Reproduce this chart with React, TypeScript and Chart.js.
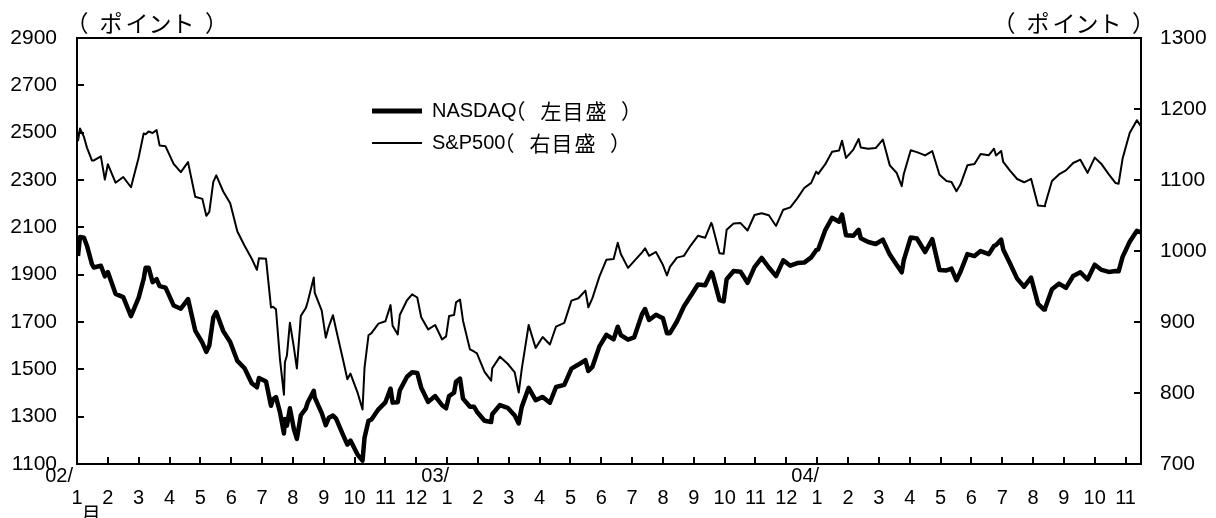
import React, { useEffect, useRef } from "react";
import { Chart, registerables } from "chart.js";

Chart.register(...registerables);

// Trading dates (weekly closes plus notable daily turning points)
const dates = [
  "2002-01-02","2002-01-04","2002-01-08","2002-01-11","2002-01-16","2002-01-18","2002-01-25","2002-01-29",
  "2002-02-01","2002-02-08","2002-02-15","2002-02-22","2002-03-01","2002-03-06","2002-03-08","2002-03-11",
  "2002-03-15","2002-03-19","2002-03-22","2002-03-28","2002-04-05","2002-04-12","2002-04-19","2002-04-26",
  "2002-05-03","2002-05-07","2002-05-10","2002-05-14","2002-05-17","2002-05-24","2002-05-31","2002-06-07",
  "2002-06-14","2002-06-21","2002-06-26","2002-06-28","2002-07-05","2002-07-10","2002-07-12","2002-07-15",
  "2002-07-19","2002-07-23","2002-07-24","2002-07-26","2002-07-29","2002-08-02","2002-08-05","2002-08-09",
  "2002-08-14","2002-08-16","2002-08-22","2002-08-23","2002-08-30","2002-09-03","2002-09-06","2002-09-10",
  "2002-09-13","2002-09-20","2002-09-24","2002-09-27","2002-10-04","2002-10-09","2002-10-11","2002-10-15",
  "2002-10-18","2002-10-25","2002-11-01","2002-11-06","2002-11-08","2002-11-13","2002-11-15","2002-11-22",
  "2002-11-27","2002-12-02","2002-12-06","2002-12-13","2002-12-20","2002-12-27","2002-12-31",
  "2003-01-03","2003-01-08","2003-01-10","2003-01-14","2003-01-17","2003-01-24","2003-01-28","2003-01-31",
  "2003-02-07","2003-02-13","2003-02-14","2003-02-21","2003-02-28","2003-03-07","2003-03-11","2003-03-14",
  "2003-03-21","2003-03-28","2003-04-04","2003-04-11","2003-04-17","2003-04-25","2003-05-02","2003-05-09",
  "2003-05-16","2003-05-19","2003-05-23","2003-05-30","2003-06-06","2003-06-13","2003-06-17","2003-06-20",
  "2003-06-27","2003-07-03","2003-07-11","2003-07-14","2003-07-18","2003-07-25","2003-08-01","2003-08-05",
  "2003-08-08","2003-08-15","2003-08-22","2003-08-29","2003-09-05","2003-09-12","2003-09-18","2003-09-19",
  "2003-09-26","2003-09-30","2003-10-03","2003-10-10","2003-10-17","2003-10-24","2003-10-31","2003-11-07",
  "2003-11-14","2003-11-21","2003-11-28","2003-12-05","2003-12-12","2003-12-19","2003-12-26","2003-12-31",
  "2004-01-02","2004-01-09","2004-01-16","2004-01-23","2004-01-26","2004-01-30","2004-02-06","2004-02-11",
  "2004-02-13","2004-02-20","2004-02-27","2004-03-05","2004-03-12","2004-03-19","2004-03-24","2004-03-26",
  "2004-04-02","2004-04-08","2004-04-16","2004-04-23","2004-04-30","2004-05-07","2004-05-12","2004-05-17",
  "2004-05-21","2004-05-28","2004-06-04","2004-06-10","2004-06-18","2004-06-23","2004-06-25","2004-06-30",
  "2004-07-02","2004-07-09","2004-07-16","2004-07-23","2004-07-30","2004-08-06","2004-08-12","2004-08-13",
  "2004-08-20","2004-08-27","2004-09-03","2004-09-10","2004-09-17","2004-09-24","2004-10-01","2004-10-08",
  "2004-10-15","2004-10-22","2004-10-25","2004-10-29","2004-11-05","2004-11-12","2004-11-16",
];

const nasdaq = [
  1979.3,2059.4,2055.7,2022.5,1944.4,1930.3,1937.7,1893.0,
  1911.2,1818.9,1805.2,1724.5,1802.7,1881.6,1929.7,1929.5,
  1868.3,1880.9,1851.4,1845.4,1770.0,1756.2,1796.8,1663.9,
  1613.0,1573.8,1600.9,1719.1,1741.4,1661.5,1615.7,1535.5,
  1504.7,1440.9,1424.0,1463.2,1448.4,1346.0,1373.5,1382.6,
  1319.2,1229.1,1290.2,1262.1,1335.3,1247.9,1206.0,1306.0,
  1334.3,1361.0,1409.3,1380.6,1314.9,1263.8,1295.3,1304.6,
  1291.4,1221.1,1182.2,1199.2,1139.9,1114.1,1210.5,1282.4,
  1287.9,1331.1,1360.7,1419.0,1359.3,1361.3,1411.1,1468.7,
  1487.9,1484.8,1422.5,1362.4,1387.1,1348.3,1335.5,
  1387.1,1401.1,1447.7,1461.0,1376.2,1342.1,1342.2,1320.9,
  1282.5,1277.4,1310.2,1349.0,1337.5,1305.3,1271.5,1340.3,
  1421.8,1369.6,1383.5,1358.9,1425.5,1434.5,1502.9,1520.2,
  1538.5,1492.8,1510.1,1595.9,1646.0,1626.5,1680.0,1644.7,
  1625.3,1634.7,1733.9,1754.8,1708.5,1730.7,1715.6,1652.7,
  1652.7,1702.0,1765.6,1810.5,1858.2,1855.2,1909.6,1905.7,
  1792.1,1786.9,1880.7,1915.3,1912.4,1865.6,1932.2,1970.7,
  1930.3,1893.9,1960.3,1937.8,1949.0,1951.0,1973.1,2003.4,
  2006.7,2086.9,2140.5,2123.9,2153.8,2066.2,2064.0,2089.7,
  2053.6,2037.9,2029.8,2047.6,1984.7,1940.5,1909.9,1960.0,
  2057.2,2052.9,1995.7,2049.8,1920.2,1918.0,1925.6,1876.6,
  1912.1,1986.7,1978.6,1999.9,1986.7,2021.0,2025.5,2047.8,
  2006.7,1946.3,1883.2,1849.1,1887.4,1776.9,1752.5,1757.2,
  1838.0,1862.1,1844.5,1894.3,1910.1,1879.5,1942.2,1920.0,
  1911.5,1915.1,1914.0,1975.0,2038.9,2085.3,2078.6,
];

const sp500 = [
  1154.7,1172.5,1160.7,1145.6,1127.6,1127.6,1133.3,1100.6,
  1122.2,1096.2,1104.2,1089.8,1131.8,1165.6,1164.3,1168.3,
  1166.2,1170.3,1148.7,1147.4,1122.7,1111.0,1125.2,1076.3,
  1073.4,1049.5,1055.0,1097.3,1106.6,1083.8,1067.1,1027.5,
  1007.3,989.1,973.5,989.8,989.0,920.5,921.4,917.9,
  847.8,797.7,843.4,852.8,899.0,864.2,834.6,908.6,
  919.6,928.8,962.7,940.9,916.1,878.0,893.9,909.6,
  889.8,845.4,819.3,827.4,800.6,776.8,835.3,881.3,
  884.4,897.7,901.0,923.8,894.7,882.5,909.8,930.6,
  938.9,934.5,906.6,889.5,895.8,875.4,879.8,
  908.6,909.9,927.6,931.7,901.8,861.4,858.5,855.7,
  829.7,817.4,834.9,851.2,841.2,828.9,800.7,833.3,
  895.8,863.5,878.9,868.3,893.6,898.8,930.1,933.4,
  944.3,920.8,933.2,963.6,987.8,988.6,1011.7,995.7,
  976.2,985.7,998.1,1003.9,993.3,998.7,980.2,965.5,
  977.6,990.7,993.1,1008.0,1021.4,1018.6,1039.6,1036.3,
  996.9,996.0,1029.9,1038.7,1039.3,1028.9,1050.7,1053.2,
  1050.4,1035.3,1058.2,1061.5,1074.1,1088.7,1095.9,1111.9,
  1108.5,1121.9,1139.8,1141.6,1155.4,1131.1,1142.8,1157.8,
  1145.8,1144.1,1144.9,1156.9,1120.6,1109.8,1091.3,1108.1,
  1141.8,1139.3,1134.6,1140.6,1107.3,1098.7,1097.3,1084.1,
  1093.6,1120.7,1122.5,1136.5,1135.0,1144.1,1134.4,1140.8,
  1125.4,1112.8,1101.4,1096.8,1101.7,1064.0,1063.2,1064.8,
  1098.6,1107.8,1113.6,1123.9,1128.6,1110.1,1131.5,1122.1,
  1108.2,1095.7,1094.8,1130.2,1166.2,1184.2,1175.4,
];

const monthLabels = [
  "1","2","3","4","5","6","7","8","9","10","11","12",
  "1","2","3","4","5","6","7","8","9","10","11","12",
  "1","2","3","4","5","6","7","8","9","10","11",
];
const yearLabels = ["02/", "03/", "04/"];
const monthSuffix = "月";
const leftTicks = [1100, 1300, 1500, 1700, 1900, 2100, 2300, 2500, 2700, 2900];
const rightTicks = [700, 800, 900, 1000, 1100, 1200, 1300];
const unitLabel = "（ポイント）";
const seriesNames = ["NASDAQ", "S&P500"];
const seriesNotes = ["（左目盛）", "（右目盛）"];

const LATIN = "'Liberation Sans', Arial, sans-serif";
const CJK = "'Noto Sans CJK JP', 'Noto Sans', sans-serif";

function monthPos(d: string): number {
  const [y, m, day] = d.split("-").map(Number);
  const dim = new Date(y, m, 0).getDate();
  return (y - 2002) * 12 + (m - 1) + (day - 1) / dim;
}

// draw each character with its ink centred on a given x
function drawSpaced(ctx: CanvasRenderingContext2D, text: string, x0: number, offs: number[], cy: number) {
  const chars = Array.from(text);
  ctx.textAlign = "left";
  ctx.textBaseline = "middle";
  chars.forEach((ch, i) => {
    const m = ctx.measureText(ch);
    const cx = x0 + offs[i];
    const x = cx - (m.actualBoundingBoxRight - m.actualBoundingBoxLeft) / 2;
    ctx.fillText(ch, x, cy);
  });
}

const decorPlugin = {
  id: "decor",
  afterDraw(chart: any) {
    const { ctx, chartArea: a, scales } = chart;
    const xs = scales.x, yl = scales.y, yr = scales.y1;
    ctx.save();
    ctx.strokeStyle = "#000";
    ctx.lineWidth = 2;
    ctx.lineCap = "butt";
    ctx.strokeRect(a.left, a.top, a.right - a.left, a.bottom - a.top);
    ctx.beginPath();
    leftTicks.forEach((v) => {
      const y = Math.round(yl.getPixelForValue(v));
      ctx.moveTo(a.left, y);
      ctx.lineTo(a.left + 7, y);
    });
    rightTicks.forEach((v) => {
      const y = Math.round(yr.getPixelForValue(v));
      ctx.moveTo(a.right, y);
      ctx.lineTo(a.right - 7, y);
    });
    monthLabels.forEach((_, i) => {
      const x = Math.round(xs.getPixelForValue(i));
      ctx.moveTo(x, a.bottom);
      ctx.lineTo(x, a.bottom - 7);
    });
    ctx.stroke();

    ctx.fillStyle = "#000";
    // year labels
    ctx.font = `20px ${LATIN}`;
    ctx.textAlign = "right";
    ctx.textBaseline = "middle";
    yearLabels.forEach((t, k) => {
      const x = xs.getPixelForValue(k * 12);
      ctx.fillText(t, x + (k === 0 ? -4 : 2), a.bottom + 12);
    });
    // 月
    ctx.font = `20px ${CJK}`;
    ctx.textAlign = "center";
    ctx.textBaseline = "top";
    ctx.fillText(monthSuffix, xs.getPixelForValue(0) + 14, a.bottom + 40);

    // unit labels
    ctx.font = `23px ${CJK}`;
    const unitOffs = [0, 27, 52, 77, 101, 125];
    drawSpaced(ctx, unitLabel, a.left + 7, unitOffs, a.top - 15);
    drawSpaced(ctx, unitLabel, a.right - 5 - 125, unitOffs, a.top - 15);

    // legend
    const lx = a.left + 295;
    const rows = [a.top + 73, a.top + 105];
    const widths = [5, 2];
    const noteOffs = [5.5, 34, 56.5, 79, 108];
    rows.forEach((ry, i) => {
      ctx.lineWidth = widths[i];
      ctx.beginPath();
      ctx.moveTo(lx, ry);
      ctx.lineTo(lx + 50, ry);
      ctx.stroke();
      ctx.textAlign = "left";
      ctx.textBaseline = "middle";
      ctx.font = `20px ${LATIN}`;
      ctx.fillText(seriesNames[i], lx + 60, ry);
      const w = ctx.measureText(seriesNames[i]).width;
      ctx.font = `21px ${CJK}`;
      drawSpaced(ctx, seriesNotes[i], lx + 60 + w, noteOffs, ry);
    });
    ctx.restore();
  },
};

export default function App() {
  const ref = useRef<HTMLCanvasElement | null>(null);
  useEffect(() => {
    if (!ref.current) return;
    const ndq = dates.map((d, i) => ({ x: monthPos(d), y: nasdaq[i] }));
    const spx = dates.map((d, i) => ({ x: monthPos(d), y: sp500[i] }));
    const chart = new Chart(ref.current, {
      type: "line",
      data: {
        datasets: [
          {
            label: seriesNames[0],
            data: ndq,
            yAxisID: "y",
            borderColor: "#000",
            borderWidth: 4.5,
            pointRadius: 0,
            tension: 0,
            borderJoinStyle: "round",
          },
          {
            label: seriesNames[1],
            data: spx,
            yAxisID: "y1",
            borderColor: "#000",
            borderWidth: 2,
            pointRadius: 0,
            tension: 0,
            borderJoinStyle: "round",
          },
        ],
      },
      options: {
        responsive: false,
        animation: false,
        devicePixelRatio: 1,
        layout: { padding: { top: 38, left: 0, right: 0, bottom: 0 } },
        plugins: { legend: { display: false }, tooltip: { enabled: false } },
        scales: {
          x: {
            type: "linear",
            min: 0,
            max: 34.5,
            afterBuildTicks: (s: any) => {
              s.ticks = monthLabels.map((_, i) => ({ value: i }));
            },
            afterFit: (s: any) => {
              s.height = 54;
            },
            ticks: {
              autoSkip: false,
              maxRotation: 0,
              minRotation: 0,
              padding: 22,
              color: "#000",
              font: { family: LATIN, size: 20 },
              callback: (_v: any, i: number) => monthLabels[i],
            },
            grid: { display: true, drawOnChartArea: false, drawTicks: false, color: "rgba(0,0,0,0)" },
            border: { display: false },
          },
          y: {
            position: "left",
            min: 1100,
            max: 2900,
            afterBuildTicks: (s: any) => {
              s.ticks = leftTicks.map((v) => ({ value: v }));
            },
            afterFit: (s: any) => {
              s.width = 77;
            },
            ticks: {
              padding: 20,
              color: "#000",
              font: { family: LATIN, size: 21 },
              callback: (v: any) => String(v),
            },
            grid: { display: true, drawOnChartArea: false, drawTicks: false, color: "rgba(0,0,0,0)" },
            border: { display: false },
          },
          y1: {
            position: "right",
            min: 700,
            max: 1300,
            afterBuildTicks: (s: any) => {
              s.ticks = rightTicks.map((v) => ({ value: v }));
            },
            afterFit: (s: any) => {
              s.width = 75;
            },
            ticks: {
              padding: 19,
              color: "#000",
              font: { family: LATIN, size: 21 },
              callback: (v: any) => String(v),
            },
            grid: { display: true, drawOnChartArea: false, drawTicks: false, color: "rgba(0,0,0,0)" },
            border: { display: false },
          },
        },
      },
      plugins: [decorPlugin],
    } as any);
    return () => chart.destroy();
  }, []);

  return (
    <div style={{ position: "fixed", left: 0, top: 0, width: 1216, height: 518, background: "#fff" }}>
      <canvas ref={ref} width={1216} height={518} style={{ display: "block" }} />
    </div>
  );
}
